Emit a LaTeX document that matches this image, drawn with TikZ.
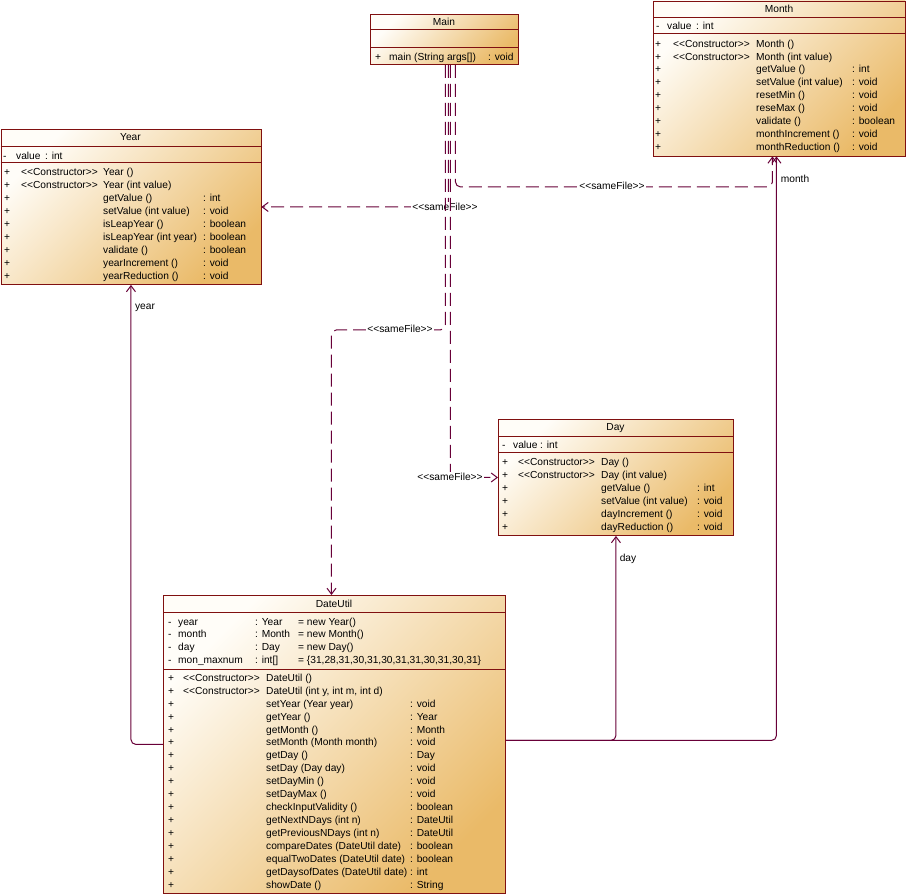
\documentclass[tikz,border=0pt]{standalone}
\usepackage{fontspec}
\setmainfont{Liberation Sans}
\usetikzlibrary{arrows.meta}
\definecolor{clsborder}{RGB}{128,16,16}
\definecolor{conn}{RGB}{104,0,56}
\definecolor{clslight}{RGB}{255,253,248}
\definecolor{clsdark}{RGB}{234,186,104}
\newcommand\uf{\fontsize{10.2}{12}\selectfont}
\newcommand\dlt{<\kern0pt<}
\newcommand\dgt{>\kern0pt>}
\newcounter{tcount}
\newcommand\tx[3]{\stepcounter{tcount}\node[txt] (t\arabic{tcount}) at (#1,#2+4) {#3};}
\newcommand\mrow[6]{\tx{#2}{#1}{+}\tx{#3}{#1}{#4}\tx{#5}{#1}{#6}}
\newcommand\crow[5]{\tx{#2}{#1}{+}\tx{#3}{#1}{\dlt Constructor\dgt}\tx{#4}{#1}{#5}}
\tikzset{
  cls/.style={draw=clsborder, line width=0.9pt, top color=clslight, bottom color=clsdark, shading angle=45, inner sep=0, anchor=north west},
  divider/.style={draw=clsborder, line width=0.9pt},
  txt/.style={inner sep=0, anchor=base west, font=\uf},
  ttl/.style={inner sep=0, font=\uf},
  lbl/.style={inner sep=1pt, font=\uf},
  dep/.style={draw=conn, line width=1pt, dash pattern=on 13pt off 6pt, rounded corners=5pt, -{Straight Barb[length=6pt,width=9pt]}},
  assoc/.style={draw=conn, line width=1pt, rounded corners=5pt, -{Straight Barb[length=6pt,width=9pt]}}
}
\begin{document}
\begin{tikzpicture}[x=1pt,y=-1pt]
\useasboundingbox (0,0) rectangle (907,894);
\fill[white] (0,0) rectangle (907,894);

% ---------------- Main
\node[cls, minimum width=148pt, minimum height=50pt] (Main) at (370,14) {};
\draw[divider] (370,29) -- (518,29);
\draw[divider] (370,47) -- (518,47);
\node[ttl] (MainT) at (444,21.5) {Main};
\tx{375}{56}{+}\tx{389}{56}{main (String args[])}\tx{488}{56}{: void}

% ---------------- Month
\node[cls, minimum width=252pt, minimum height=155pt] (Month) at (653,0.5) {};
\draw[divider] (653,17) -- (905,17);
\draw[divider] (653,33) -- (905,33);
\node[ttl] (MonthT) at (779,8.5) {Month};
\tx{656}{25}{-}\tx{667}{25}{value}\tx{696}{25}{: int}
\crow{43}{655}{673}{756}{Month ()}
\crow{56}{655}{673}{756}{Month (int value)}
\mrow{68}{655}{756}{getValue ()}{852}{: int}
\mrow{81}{655}{756}{setValue (int value)}{852}{: void}
\mrow{94}{655}{756}{resetMin ()}{852}{: void}
\mrow{107}{655}{756}{reseMax ()}{852}{: void}
\mrow{120}{655}{756}{validate ()}{852}{: boolean}
\mrow{133}{655}{756}{monthIncrement ()}{852}{: void}
\mrow{146}{655}{756}{monthReduction ()}{852}{: void}

% ---------------- Year
\node[cls, minimum width=260pt, minimum height=155pt] (Year) at (0.5,129) {};
\draw[divider] (0.5,146) -- (260.5,146);
\draw[divider] (0.5,162) -- (260.5,162);
\node[ttl] (YearT) at (130.5,137.5) {Year};
\tx{3}{155}{-}\tx{16}{155}{value}\tx{45}{155}{: int}
\crow{171}{4}{21}{103}{Year ()}
\crow{184}{4}{21}{103}{Year (int value)}
\mrow{197}{4}{103}{getValue ()}{203}{: int}
\mrow{210}{4}{103}{setValue (int value)}{203}{: void}
\mrow{223}{4}{103}{isLeapYear ()}{203}{: boolean}
\mrow{236}{4}{103}{isLeapYear (int year)}{203}{: boolean}
\mrow{249}{4}{103}{validate ()}{203}{: boolean}
\mrow{262}{4}{103}{yearIncrement ()}{203}{: void}
\mrow{275}{4}{103}{yearReduction ()}{203}{: void}

% ---------------- Day
\node[cls, minimum width=235pt, minimum height=116pt] (Day) at (498,419) {};
\draw[divider] (498,436) -- (733,436);
\draw[divider] (498,452) -- (733,452);
\node[ttl] (DayT) at (615.5,428) {Day};
\tx{502}{444}{-}\tx{513}{444}{value}\tx{540}{444}{: int}
\crow{461}{502}{518}{601}{Day ()}
\crow{474}{502}{518}{601}{Day (int value)}
\mrow{487}{502}{601}{getValue ()}{697}{: int}
\mrow{500}{502}{601}{setValue (int value)}{697}{: void}
\mrow{513}{502}{601}{dayIncrement ()}{697}{: void}
\mrow{526}{502}{601}{dayReduction ()}{697}{: void}

% ---------------- DateUtil
\node[cls, minimum width=342pt, minimum height=298pt] (DateUtil) at (163,595) {};
\draw[divider] (163,612) -- (505,612);
\draw[divider] (163,669) -- (505,669);
\node[ttl] (DateUtilT) at (334,603.5) {DateUtil};
\tx{168}{621}{-}\tx{178}{621}{year}\tx{255}{621}{: Year}\tx{298}{621}{= new Year()}
\tx{168}{633}{-}\tx{178}{633}{month}\tx{255}{633}{: Month}\tx{298}{633}{= new Month()}
\tx{168}{646}{-}\tx{178}{646}{day}\tx{255}{646}{: Day}\tx{298}{646}{= new Day()}
\tx{168}{659}{-}\tx{178}{659}{mon\_maxnum}\tx{255}{659}{: int[]}\tx{298}{659}{= \{31,28,31,30,31,30,31,31,30,31,30,31\}}
\crow{677}{168}{183}{266}{DateUtil ()}
\crow{690}{168}{183}{266}{DateUtil (int y, int m, int d)}
\mrow{703}{168}{266}{setYear (Year year)}{410}{: void}
\mrow{716}{168}{266}{getYear ()}{410}{: Year}
\mrow{729}{168}{266}{getMonth ()}{410}{: Month}
\mrow{741}{168}{266}{setMonth (Month month)}{410}{: void}
\mrow{754}{168}{266}{getDay ()}{410}{: Day}
\mrow{767}{168}{266}{setDay (Day day)}{410}{: void}
\mrow{780}{168}{266}{setDayMin ()}{410}{: void}
\mrow{793}{168}{266}{setDayMax ()}{410}{: void}
\mrow{806}{168}{266}{checkInputValidity ()}{410}{: boolean}
\mrow{819}{168}{266}{getNextNDays (int n)}{410}{: DateUtil}
\mrow{832}{168}{266}{getPreviousNDays (int n)}{410}{: DateUtil}
\mrow{845}{168}{266}{compareDates (DateUtil date)}{410}{: boolean}
\mrow{858}{168}{266}{equalTwoDates (DateUtil date)}{410}{: boolean}
\mrow{871}{168}{266}{getDaysofDates (DateUtil date)}{410}{: int}
\mrow{884}{168}{266}{showDate ()}{410}{: String}

% ---------------- dependencies (sameFile)
\draw[dep] ([xshift=4pt]Main.south) |- (Year.east);
\node[lbl, fill=white] (l2) at (445,207) {\dlt sameFile\dgt};
\draw[dep] ([xshift=11pt]Main.south) -- ++(0,122) -| ([xshift=-7pt]Month.south);
\node[lbl, fill=white] (l1) at (612,186) {\dlt sameFile\dgt};
\draw[dep] ([xshift=1pt]Main.south) -- ++(0,265) -| ([xshift=-3pt]DateUtil.north);
\node[lbl, fill=white] (l3) at (400,329) {\dlt sameFile\dgt};
\draw[dep] ([xshift=6pt]Main.south) |- (Day.west);
\node[lbl, fill=white] (l4) at (450,477) {\dlt sameFile\dgt};

% ---------------- associations
\draw[assoc] (DateUtil.west) -| (Year.south);
\node[lbl] (ay) at (145,308) {year};
\draw[assoc] ([yshift=4pt]DateUtil.east) -| (Day.south);
\node[lbl] (ad) at (628,559) {day};
\draw[assoc] ([yshift=4pt]DateUtil.east) -| ([xshift=-3pt]Month.south);
\node[lbl] (am) at (795,179) {month};
\end{tikzpicture}
\end{document}
